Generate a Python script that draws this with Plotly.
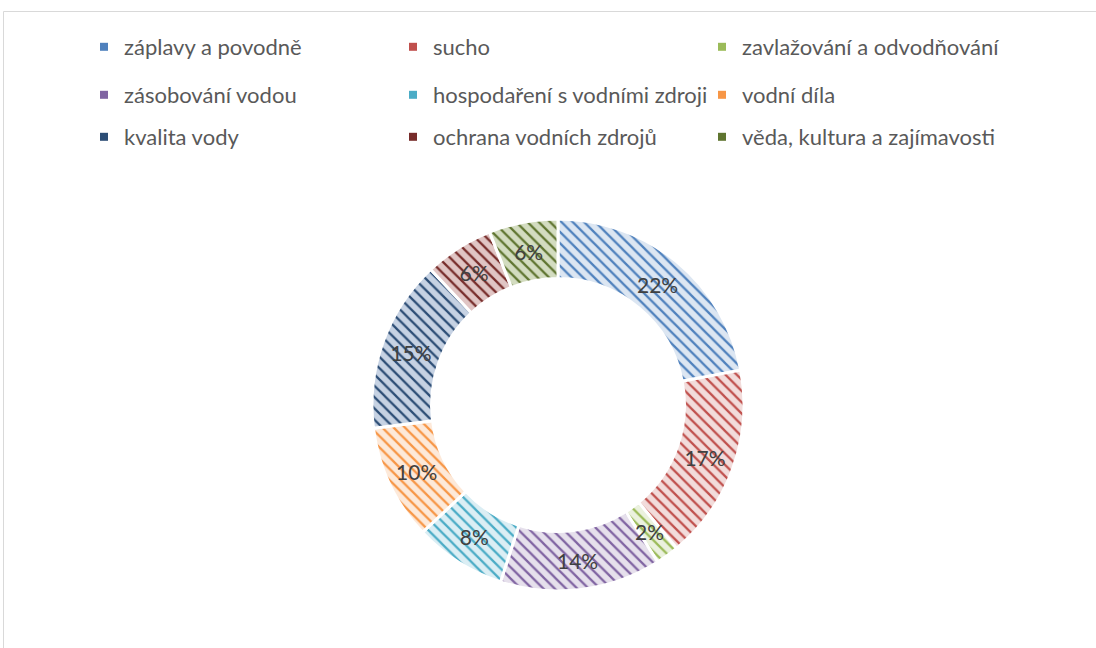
import math
import plotly.graph_objects as go

categories = ["záplavy a povodně", "sucho", "zavlažování a odvodňování",
              "zásobování vodou", "hospodaření s vodními zdroji", "vodní díla",
              "kvalita vody", "ochrana vodních zdrojů", "věda, kultura a zajímavosti"]
values = [22, 17, 2, 14, 8, 10, 15, 6, 6]

colors = ["#4F81BD", "#C0504D", "#9BBB59", "#8064A2", "#4BACC6", "#F79646",
          "#2C4D75", "#772C2A", "#5F7530"]
bgcolors = ["#DCE6F2", "#F2DCDB", "#EBF1DE", "#E6E0EC", "#DBEEF4", "#FDE9D9",
            "#C6D2E3", "#E0C5C4", "#D3DCC0"]

W, H = 1096, 648
cx, cy, r = 558, 405, 186
hole = 0.68
small = 3  # percent below which label is placed as free text (would otherwise shrink)
label_font = dict(family="Lato", size=21, color="#404040")

total = sum(values)
textpos = ["none" if v / total * 100 < small else "inside" for v in values]

fig = go.Figure()
fig.add_trace(go.Pie(
    labels=categories, values=values, sort=False, direction="clockwise",
    hole=hole, showlegend=False,
    domain=dict(x=[(cx - r) / W, (cx + r) / W], y=[(H - cy - r) / H, (H - cy + r) / H]),
    marker=dict(colors=bgcolors, line=dict(color="white", width=3),
                pattern=dict(shape="\\", fgcolor=colors, bgcolor=bgcolors, size=8, solidity=0.28)),
    texttemplate="%{percent:.0%}", textposition=textpos, insidetextorientation="horizontal",
    textfont=label_font,
))

# labels for slices too small for inside text, placed at slice centre
annotations = []
cum = 0
rm = r * (1 + hole) / 2
for v in values:
    frac_mid = (cum + v / 2) / total
    cum += v
    if v / total * 100 < small:
        th = 2 * math.pi * frac_mid
        annotations.append(dict(
            x=(cx + rm * math.sin(th)) / W, y=1 - (cy - rm * math.cos(th)) / H,
            xref="paper", yref="paper", showarrow=False,
            xanchor="center", yanchor="middle",
            text=f"{round(v / total * 100)}%", font=label_font))

# legend entries (3 rows x 3 columns)
for i, (name, col) in enumerate(zip(categories, colors)):
    row = i // 3
    fig.add_trace(go.Scatter(
        x=[None], y=[None], mode="markers", name=name,
        marker=dict(symbol="square", size=8, color=col),
        legend="legend" if row == 0 else f"legend{row + 1}",
    ))

row_y = [47, 95, 137]
leg_common = dict(orientation="h", xanchor="left", yanchor="middle",
                  x=84 / W, entrywidth=264, entrywidthmode="pixels",
                  font=dict(family="Lato", size=22, color="#595959"),
                  bgcolor="rgba(0,0,0,0)", itemclick=False)
fig.update_layout(
    width=W, height=H, margin=dict(l=0, r=0, t=0, b=0),
    paper_bgcolor="white", plot_bgcolor="white",
    xaxis=dict(visible=False), yaxis=dict(visible=False),
    legend=dict(y=1 - row_y[0] / H, **leg_common),
    legend2=dict(y=1 - row_y[1] / H, **leg_common),
    legend3=dict(y=1 - row_y[2] / H, **leg_common),
    annotations=annotations,
    shapes=[dict(type="rect", xref="paper", yref="paper",
                 x0=3.5 / W, x1=1.01, y0=-0.02, y1=1 - 11.5 / H,
                 line=dict(color="#D9D9D9", width=1))],
)

fig.write_html("out.html", config={"displayModeBar": False},
               post_script="document.body.style.margin='0px';")
